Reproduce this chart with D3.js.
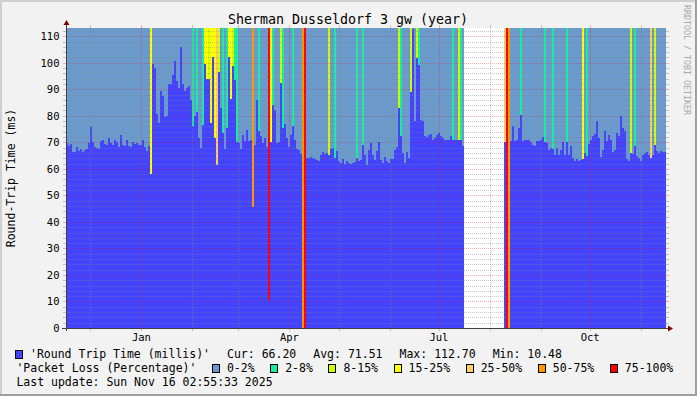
<!DOCTYPE html>
<html>
<head>
<meta charset="utf-8">
<script src="https://cdn.jsdelivr.net/npm/d3@7"></script>
<style>
  html, body { margin: 0; padding: 0; background: #f2f2f2; }
  svg { display: block; }
  text { font-family: "DejaVu Sans Mono", monospace; fill: #000; }
</style>
</head>
<body>
<script>
var W = 697, H = 396;

var title = "Sherman Dusseldorf 3 gw (year)";
var yTitle = "Round-Trip Time (ms)";
var watermark = "RRDTOOL / TOBI OETIKER";
var startTime = new Date(2024, 10, 16, 2, 55, 33);
var endTime = new Date(2025, 10, 16, 2, 55, 33);
var monthNames = ["Jan", "Feb", "Mar", "Apr", "May", "Jun", "Jul", "Aug", "Sep", "Oct", "Nov", "Dec"];
var yTicks = [0, 10, 20, 30, 40, 50, 60, 70, 80, 90, 100, 110];
var yMax = 113.1;

var rttName = "'Round Trip Time (millis)'";
var rttStats = ["Cur: 66.20", "Avg: 71.51", "Max: 112.70", "Min: 10.48"];
var lossName = "'Packet Loss (Percentage)'";
var lossNames = ["0-2%", "2-8%", "8-15%", "15-25%", "25-50%", "50-75%", "75-100%"];
var lastUpdate = "Last update: Sun Nov 16 02:55:33 2025";

// round trip time per sample (null = no RTT)
var rtt = [
  69.7, 68.8, 69.3, 66.2, 66.2, 68.2, 66.6, 67.5, 66.5, 67.2, 67.5, 69.7, 75.8, 70.0, 68.2, 67.7, 67.5, 70.4, 71.0, 69.5,
  69.1, 71.5, 69.7, 69.1, 71.0, 70.0, 68.2, 72.6, 69.1, 68.8, 71.0, 68.5, 68.2, 70.1, 69.5, 69.7, 69.1, 69.1, 71.0, 68.2,
  66.6, 68.7, 58.0, 99.5, 98.0, 80.5, 77.3, 89.2, 87.6, 79.5, 79.8, 92.0, 92.0, 95.5, 100.5, 93.0, 90.5, 105.8, 92.0, 89.5,
  90.5, 91.3, 86.0, 76.0, 80.0, 81.3, 71.6, 67.8, 76.6, 99.5, 94.0, 93.8, 77.3, 102.0, 71.6, 61.5, 96.4, 83.0, 73.7, 67.5,
  75.4, 102.0, 86.3, 98.6, 93.6, 70.0, 69.7, 67.5, 72.6, 70.4, 74.5, 70.4, 71.0, 45.5, 69.1, 85.8, 74.1, 72.2, 69.7, 71.6,
  68.2, 10.48, 70.0, 84.0, 82.3, 69.7, 70.0, 92.3, 75.4, 77.0, 71.6, 68.2, 72.9, 76.0, 71.0, 67.5, 67.0, 65.6, null, null,
  64.1, 64.1, 64.3, 64.1, 63.7, 63.4, 62.8, 65.3, 66.2, 65.7, 66.0, 65.3, 67.5, 67.8, 64.1, 66.6, 62.8, 62.2, 63.7, 61.9,
  62.8, 62.2, 61.9, 62.2, 62.4, 64.1, 62.8, 63.4, 69.0, 65.3, 61.6, 67.0, 69.7, 65.3, 63.4, 66.6, 70.0, 63.4, 62.2, 64.4,
  62.8, 62.2, 63.7, 63.7, 67.2, 68.2, 82.9, 72.2, 66.0, 62.2, 66.2, 64.1, 88.8, 112.7, 77.9, 101.7, 99.0, 78.5, 77.9, 72.2,
  71.9, 72.6, 73.2, 71.0, 71.6, 72.9, 73.7, 72.2, 71.6, 71.0, 71.0, 71.0, 72.2, 70.7, 70.7, 70.7, 70.7, 70.7, 68.5, null,
  null, null, null, null, null, null, null, null, null, null, null, null, null, null, null, null, null, null, null, 70.0,
  null, null, 70.4, 76.0, 70.4, 71.0, 75.4, 80.4, 70.4, 71.0, 71.0, 71.0, 70.0, 69.1, 68.7, 70.4, 70.4, 70.7, 71.9, 70.3,
  69.7, 67.2, 67.8, 67.5, 65.3, 67.8, 65.3, 67.2, 70.0, 65.3, 70.0, 65.3, 68.5, 64.1, 62.8, 63.7, 62.8, 63.4, 63.6, 66.0,
  65.0, 69.5, 70.7, 72.2, 73.2, 77.9, 71.6, 64.4, 67.0, 74.1, 70.4, 72.9, 71.0, 66.2, 67.2, 73.7, 72.2, 79.8, 75.4, 74.1,
  63.7, 62.8, 66.0, 65.7, 68.7, 64.7, 64.1, 62.8, 65.3, 66.0, 66.2, 65.3, 64.1, 65.3, 69.1, 66.6, 66.0, 66.6, 66.2, 66.2
];

// packet loss class per sample (index into lossNames, -1 = no data)
var loss = [
  0, 0, 0, 0, 0, 0, 0, 0, 0, 0, 0, 0, 0, 0, 0, 0, 0, 0, 0, 0,
  0, 0, 0, 0, 0, 0, 0, 0, 0, 0, 0, 0, 0, 0, 0, 0, 0, 0, 0, 0,
  0, 0, 3, 0, 0, 0, 0, 0, 0, 0, 0, 0, 0, 0, 0, 0, 0, 0, 0, 0,
  0, 0, 0, 1, 0, 1, 0, 0, 1, 3, 3, 2, 3, 3, 3, 4, 2, 0, 1, 0,
  1, 3, 3, 2, 1, 1, 0, 0, 0, 0, 0, 0, 0, 5, 0, 0, 1, 0, 0, 0,
  0, 6, 3, 1, 0, 0, 0, 2, 1, 0, 0, 0, 0, 1, 0, 0, 0, 0, 5, 6,
  0, 0, 0, 0, 0, 0, 0, 0, 0, 0, 0, 2, 0, 0, 1, 0, 0, 0, 0, 0,
  0, 0, 0, 0, 0, 1, 0, 0, 1, 0, 0, 0, 0, 0, 0, 0, 0, 0, 0, 0,
  0, 0, 0, 0, 0, 0, 2, 1, 0, 0, 0, 0, 2, 0, 0, 2, 1, 0, 0, 0,
  0, 0, 0, 0, 0, 0, 0, 0, 0, 0, 0, 0, 0, 1, 0, 0, 2, 1, 0, -1,
  -1, -1, -1, -1, -1, -1, -1, -1, -1, -1, -1, -1, -1, -1, -1, -1, -1, -1, -1, 4,
  6, 5, 0, 0, 0, 0, 0, 1, 0, 0, 0, 0, 0, 0, 0, 0, 0, 0, 0, 1,
  0, 0, 0, 1, 0, 0, 0, 0, 0, 0, 1, 0, 0, 0, 0, 0, 0, 0, 3, 0,
  1, 0, 0, 0, 0, 0, 0, 0, 0, 0, 0, 0, 0, 0, 0, 0, 0, 0, 0, 0,
  0, 0, 2, 0, 1, 0, 0, 0, 0, 0, 0, 0, 4, 0, 2, 0, 0, 0, 0, 0
];

var rttColor = "#4444ff";
var lossColor = d3.scaleOrdinal()
    .domain(d3.range(lossNames.length))
    .range(["#6b9bcd", "#14f0a0", "#ccff00", "#ffff00", "#ffcc66", "#ff9900", "#ff0000"]);

var svg = d3.select("body").append("svg")
    .attr("width", W)
    .attr("height", H);

// background + 3d frame
svg.append("rect").attr("width", W).attr("height", H).attr("fill", "#f2f2f2");
svg.append("rect").attr("x", 0).attr("y", 0).attr("width", W).attr("height", 2).attr("fill", "#cfcfcf");
svg.append("rect").attr("x", 0).attr("y", 0).attr("width", 2).attr("height", H).attr("fill", "#cfcfcf");
svg.append("rect").attr("x", 0).attr("y", H - 2).attr("width", W).attr("height", 2).attr("fill", "#9e9e9e");
svg.append("rect").attr("x", W - 2).attr("y", 0).attr("width", 2).attr("height", H).attr("fill", "#9e9e9e");

var xScale = d3.scaleTime().domain([startTime, endTime]).range([66, 666]);
var yScale = d3.scaleLinear().domain([0, yMax]).range([328, 28]);

var step = (endTime - startTime) / rtt.length;
var samples = rtt.map(function(v, i) {
    return {
        t0: new Date(+startTime + i * step),
        t1: new Date(+startTime + (i + 1) * step),
        rtt: v,
        loss: loss[i]
    };
});
function sx(d) { return Math.round(xScale(d.t0)); }
function sw(d) { return Math.round(xScale(d.t1)) - Math.round(xScale(d.t0)); }

var plot = svg.append("g").attr("shape-rendering", "crispEdges");

// canvas
plot.append("rect")
    .attr("x", xScale(startTime)).attr("y", yScale(yMax))
    .attr("width", xScale(endTime) - xScale(startTime))
    .attr("height", yScale(0) - yScale(yMax))
    .attr("fill", "#ffffff");

// packet loss background, from the RTT value up to the top
plot.selectAll(".loss")
    .data(samples.filter(function(d) { return d.loss >= 0; }))
  .enter().append("rect")
    .attr("class", "loss")
    .attr("x", sx)
    .attr("width", sw)
    .attr("y", yScale(yMax))
    .attr("height", function(d) {
        var bottom = d.rtt === null ? yScale(0) : yScale(d.rtt);
        return Math.round(bottom) - yScale(yMax);
    })
    .attr("fill", function(d) { return lossColor(d.loss); });

// round trip time area
plot.selectAll(".rtt")
    .data(samples.filter(function(d) { return d.rtt !== null; }))
  .enter().append("rect")
    .attr("class", "rtt")
    .attr("x", sx)
    .attr("width", sw)
    .attr("y", function(d) { return Math.round(yScale(d.rtt)); })
    .attr("height", function(d) { return yScale(0) - Math.round(yScale(d.rtt)); })
    .attr("fill", rttColor);

// grid
var gridMinor = "rgba(130,130,130,0.45)", gridMajor = "rgba(255,0,0,0.3)";
var grid = svg.append("g").attr("shape-rendering", "crispEdges");
var x0 = xScale(startTime), x1 = xScale(endTime);

d3.range(2, yMax, 2).forEach(function(v) {
    var yy = Math.round(yScale(v)) + 0.5;
    var c = v % 10 === 0 ? gridMajor : gridMinor;
    grid.append("line").attr("x1", x0).attr("x2", x1).attr("y1", yy).attr("y2", yy)
        .attr("stroke", c).attr("stroke-dasharray", "1,1");
    grid.append("line").attr("x1", x0 - 3).attr("x2", x0).attr("y1", yy).attr("y2", yy).attr("stroke", c);
    grid.append("line").attr("x1", x1).attr("x2", x1 + 3).attr("y1", yy).attr("y2", yy).attr("stroke", c);
});

var months = d3.timeMonth.range(startTime, endTime);
months.forEach(function(m) {
    var xx = Math.round(xScale(m)) + 0.5;
    var c = m.getMonth() % 3 === 0 ? gridMajor : gridMinor;
    grid.append("line").attr("x1", xx).attr("x2", xx).attr("y1", yScale(yMax)).attr("y2", yScale(0))
        .attr("stroke", c).attr("stroke-dasharray", "1,1");
    grid.append("line").attr("x1", xx).attr("x2", xx).attr("y1", yScale(0)).attr("y2", yScale(0) + 3).attr("stroke", c);
    grid.append("line").attr("x1", xx).attr("x2", xx).attr("y1", yScale(yMax) - 3).attr("y2", yScale(yMax)).attr("stroke", c);
});

// axes
var axisColor = "#404040";
grid.append("line").attr("x1", x0 - 4).attr("x2", x1 + 3).attr("y1", yScale(0) + 0.5).attr("y2", yScale(0) + 0.5).attr("stroke", axisColor);
grid.append("line").attr("x1", x0 + 0.5).attr("x2", x0 + 0.5).attr("y1", yScale(0) + 3).attr("y2", yScale(yMax) - 3).attr("stroke", axisColor);
svg.append("path")
    .attr("d", "M" + (x1 + 2) + "," + (yScale(0) - 2.5) + "L" + (x1 + 7) + "," + (yScale(0) + 0.5) + "L" + (x1 + 2) + "," + (yScale(0) + 3.5) + "Z")
    .attr("fill", "#7f0000");
svg.append("path")
    .attr("d", "M" + (x0 - 2.5) + "," + (yScale(yMax) - 3) + "L" + (x0 + 0.5) + "," + (yScale(yMax) - 8) + "L" + (x0 + 3.5) + "," + (yScale(yMax) - 3) + "Z")
    .attr("fill", "#7f0000");

// tick labels
svg.selectAll(".ylab")
    .data(yTicks)
  .enter().append("text")
    .attr("x", x0 - 6.5)
    .attr("y", function(d) { return yScale(d) + 3.8; })
    .attr("text-anchor", "end")
    .style("font-size", "10.5px")
    .text(function(d) { return d; });

svg.selectAll(".xlab")
    .data(months.filter(function(m) { return m.getMonth() % 3 === 0; }))
  .enter().append("text")
    .attr("x", function(d) { return xScale(d); })
    .attr("y", 341)
    .attr("text-anchor", "middle")
    .style("font-size", "10.5px")
    .text(function(d) { return monthNames[d.getMonth()]; });

// titles
svg.append("text")
    .attr("x", 348).attr("y", 24)
    .attr("text-anchor", "middle")
    .style("font-size", "13.3px")
    .text(title);

svg.append("text")
    .attr("transform", "translate(15," + (yScale(0) + yScale(yMax)) / 2 + ") rotate(-90)")
    .attr("text-anchor", "middle")
    .style("font-size", "11.5px")
    .text(yTitle);

svg.append("text")
    .attr("transform", "translate(684,5) rotate(90)")
    .style("font-size", "8.3px")
    .style("fill", "#a8a8a8")
    .text(watermark);

// legend
var legFont = "11.5px";
function measure(str) {
    var t = svg.append("text").style("font-size", legFont).text(str);
    var w = t.node().getComputedTextLength();
    t.remove();
    return w;
}
function swatch(x, y, color) {
    svg.append("rect")
        .attr("x", x - 0.5).attr("y", y)
        .attr("width", 7).attr("height", 8)
        .attr("fill", color).attr("stroke", "#000").attr("stroke-width", 1)
        .attr("shape-rendering", "crispEdges");
}
function legText(x, y, str) {
    svg.append("text").attr("x", x).attr("y", y).style("font-size", legFont).text(str);
}

// line 1: left aligned with fixed gaps
var lx = 16, gap = 17;
swatch(lx, 350, rttColor);
legText(lx + 14, 358, rttName);
lx += 14 + measure(rttName) + gap;
rttStats.forEach(function(s) {
    legText(lx, 358, s);
    lx += measure(s) + gap;
});

// line 2: justified across the width
var items = [{ label: lossName, box: null }].concat(lossNames.map(function(n, i) {
    return { label: n, box: lossColor(i) };
}));
var widths = items.map(function(it) { return (it.box ? 14 : 0) + measure(it.label); });
var lineStart = 16.4, lineEnd = 673.3;
var jgap = (lineEnd - lineStart - d3.sum(widths)) / (items.length - 1);
var px = lineStart;
items.forEach(function(it, i) {
    if (it.box) {
        swatch(px, 364, it.box);
        legText(px + 14, 372, it.label);
    } else {
        legText(px, 372, it.label);
    }
    px += widths[i] + jgap;
});

legText(16.4, 386, lastUpdate);
</script>
</body>
</html>
